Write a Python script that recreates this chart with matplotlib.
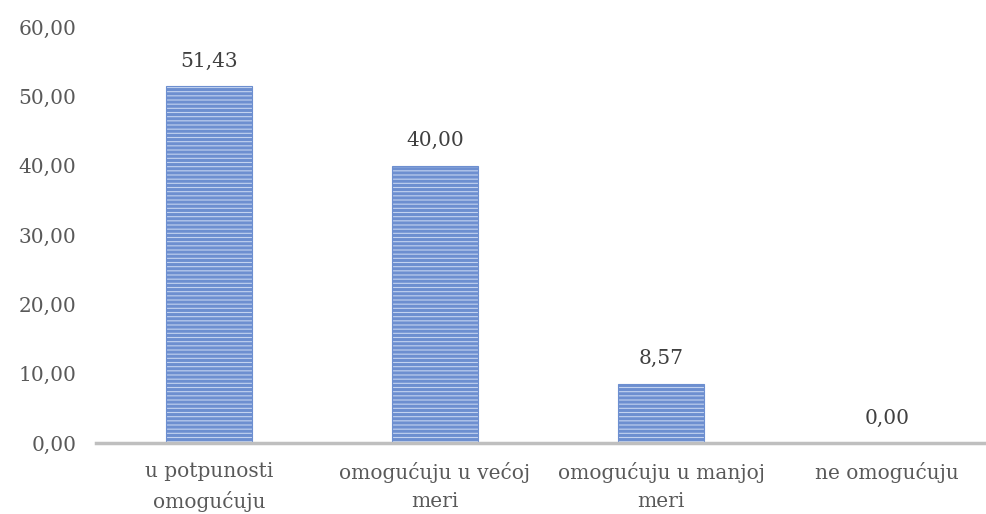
import numpy as np
import matplotlib.pyplot as plt
import matplotlib as mpl

kategorije = ['u potpunosti\nomogućuju', 'omogućuju u većoj\nmeri',
              'omogućuju u manjoj\nmeri', 'ne omogućuju']
vrednosti = [51.43, 40.00, 8.57, 0.00]
yticks = [0, 10, 20, 30, 40, 50, 60]

def fmt(v):
    return ('%.2f' % v).replace('.', ',')

plt.rcParams['font.family'] = ['DejaVu Serif']
mpl.rcParams['hatch.color'] = '#4472C4'
mpl.rcParams['hatch.linewidth'] = 2.2

fig = plt.figure(figsize=(9.87, 5.14), dpi=100)
ax = fig.add_axes([96 / 987, 1 - 443 / 514, 904 / 987, (443 - 27) / 514])

x = np.arange(len(kategorije))
bars = ax.bar(x, vrednosti, width=0.38, color='#c3d3f0', hatch='----',
              edgecolor='#6d8fd0', linewidth=0.8, zorder=2)

for xi, v in zip(x, vrednosti):
    ax.annotate(fmt(v), (xi, v), xytext=(0, 11), textcoords='offset points',
                ha='center', va='bottom', fontsize=14.5, color='#404040')

ax.set_xlim(-0.5, 3.5)
ax.set_ylim(0, 60)
ax.set_yticks(yticks)
ax.set_yticklabels([fmt(t) for t in yticks], fontsize=14.5, color='#595959')
ax.set_xticks(x)
ax.set_xticklabels(kategorije, fontsize=14.5, color='#595959',
                   linespacing=1.55, multialignment='center')
ax.tick_params(length=0, pad=14)
ax.tick_params(axis='x', pad=14)

for s in ['top', 'right', 'left']:
    ax.spines[s].set_visible(False)
ax.spines['bottom'].set_color('#bfbfbf')
ax.spines['bottom'].set_linewidth(2.5)

fig.savefig('out.png', dpi=100)
